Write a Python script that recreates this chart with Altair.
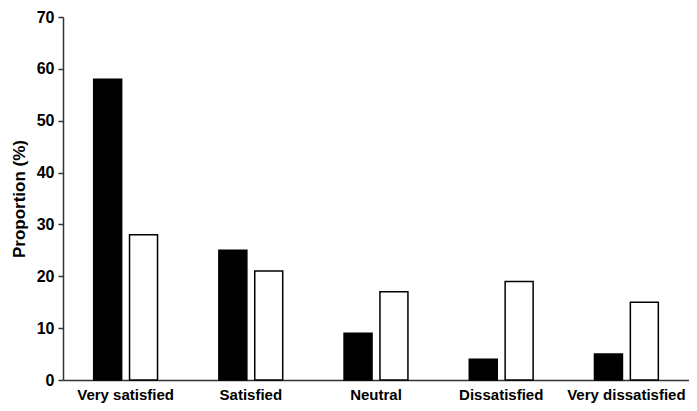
import altair as alt
import pandas as pd

categories = ["Very satisfied", "Satisfied", "Neutral", "Dissatisfied", "Very dissatisfied"]
series_names = ["Group 1", "Group 2"]
group1 = [58, 25, 9, 4, 5]
group2 = [28, 21, 17, 19, 15]
y_ticks = [0, 10, 20, 30, 40, 50, 60, 70]

rows = []
for c, a, b in zip(categories, group1, group2):
    rows.append({"category": c, "series": series_names[0], "value": a})
    rows.append({"category": c, "series": series_names[1], "value": b})
df = pd.DataFrame(rows)

FONT = "Liberation Sans"

chart = alt.Chart(df).mark_bar(stroke="black", strokeWidth=1.5).encode(
    x=alt.X("category:N", sort=categories,
            scale=alt.Scale(paddingInner=0.49, paddingOuter=0.245),
            axis=alt.Axis(title=None, labelAngle=0, ticks=False, tickSize=0,
                          labelPadding=7, labelFontSize=15, labelFontWeight="bold",
                          labelFont=FONT, labelColor="black",
                          domainColor="#333", domainWidth=1.5)),
    xOffset=alt.XOffset("series:N", sort=series_names,
                        scale=alt.Scale(paddingInner=0.22, paddingOuter=0)),
    y=alt.Y("value:Q", scale=alt.Scale(domain=[0, 70], nice=False),
            axis=alt.Axis(title="Proportion (%)", values=y_ticks, grid=False,
                          tickSize=5, tickColor="#333", tickWidth=1.5,
                          domainColor="#333", domainWidth=1.5,
                          labelPadding=4, labelFontSize=16, labelFontWeight="bold",
                          labelFont=FONT, labelColor="black",
                          titleFont=FONT, titleFontSize=17, titleFontWeight="bold",
                          titleColor="black", titleBaseline="middle", titleX=-44)),
    fill=alt.Fill("series:N", sort=series_names,
                  scale=alt.Scale(domain=series_names, range=["black", "white"]),
                  legend=None),
).properties(
    width=626,
    height=363,
    autosize=alt.AutoSizeParams(type="none"),
    padding={"left": 55, "top": 9, "right": 0, "bottom": 23},
).configure_view(stroke=None)

chart.save("out.html", embed_options={"renderer": "svg", "actions": False})
